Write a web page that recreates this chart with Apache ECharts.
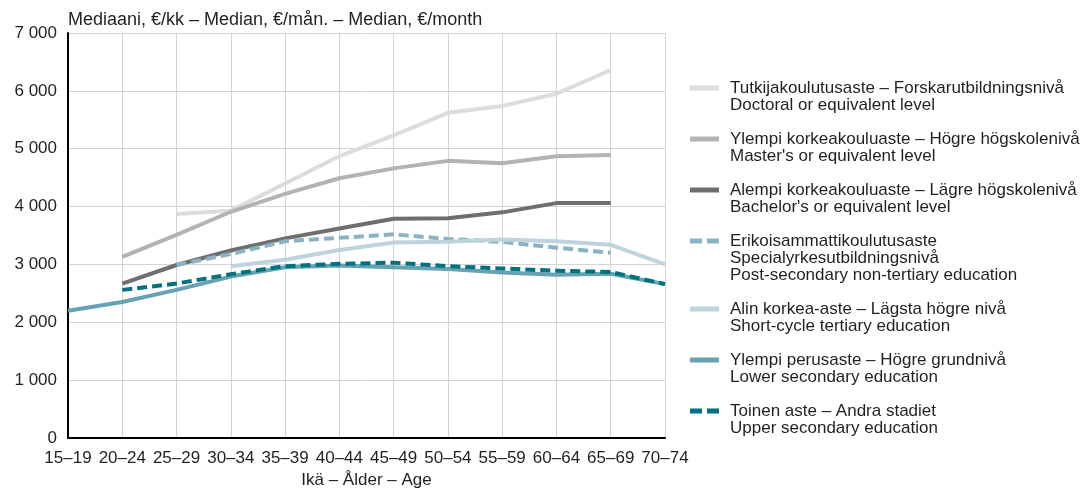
<!DOCTYPE html>
<html><head><meta charset="utf-8">
<script src="https://cdn.jsdelivr.net/npm/echarts@6/dist/echarts.min.js"></script>
<style>html,body{margin:0;padding:0;background:#fff}#c{width:1086px;height:489px}</style>
</head><body><div id="c"></div>
<script>
var categories = ['15–19','20–24','25–29','30–34','35–39','40–44','45–49','50–54','55–59','60–64','65–69','70–74'];
var doctoral   = [null,null,3870,3930,4400,4870,5230,5620,5740,5950,6360,null];
var masters    = [null,3130,3510,3910,4220,4490,4660,4790,4750,4870,4890,null];
var bachelors  = [null,2670,2990,3240,3450,3620,3790,3800,3900,4060,4060,null];
var postSec    = [null,null,2990,3180,3400,3460,3520,3440,3390,3290,3200,null];
var shortCycle = [null,null,null,2970,3080,3250,3380,3390,3430,3400,3340,3000];
var lowerSec   = [2200,2350,2560,2790,2950,2980,2950,2920,2860,2820,2840,2660];
var upperSec   = [null,2560,2670,2830,2970,3010,3030,2970,2930,2890,2870,2660];
var seriesNames = [
  ['Tutkijakoulutusaste – Forskarutbildningsnivå','Doctoral or equivalent level'],
  ['Ylempi korkeakouluaste – Högre högskolenivå',"Master's or equivalent level"],
  ['Alempi korkeakouluaste – Lägre högskolenivå',"Bachelor's or equivalent level"],
  ['Erikoisammattikoulutusaste','Specialyrkesutbildningsnivå','Post-secondary non-tertiary education'],
  ['Alin korkea-aste – Lägsta högre nivå','Short-cycle tertiary education'],
  ['Ylempi perusaste – Högre grundnivå','Lower secondary education'],
  ['Toinen aste – Andra stadiet','Upper secondary education']
];
var yTitle = 'Mediaani, €/kk – Median, €/mån. – Median, €/month';
var xTitle = 'Ikä – Ålder – Age';

var seriesData = [doctoral, masters, bachelors, postSec, shortCycle, lowerSec, upperSec];
var colors = ['#dcdcdc','#b3b3b3','#6e6e6e','#89b3c3','#bdd4dc','#66a2b1','#00717f'];
var dashed = [false,false,false,true,false,false,true];
var FONT = 'Liberation Sans';
var FS = 17;

var series = seriesData.map(function(d,i){
  return {type:'line', name: seriesNames[i].join(' '), data:d, symbol:'none', connectNulls:false,
    lineStyle:{color:colors[i], width:4, type: dashed[i] ? [10,5] : 'solid', cap:'butt', join:'round'},
    itemStyle:{color:colors[i]}, silent:true, animation:false};
});

var graphics = [];
var y = 88, L = 17, gap = 17;
seriesNames.forEach(function(lines,i){
  graphics.push({type:'line', shape:{x1:690,y1:y,x2:719,y2:y},
    style:{stroke:colors[i], lineWidth:5, lineDash: dashed[i] ? [12,5] : null}});
  lines.forEach(function(t,k){
    graphics.push({type:'text', x:730, y:y + k*L, style:{text:t, font:FS+'px "'+FONT+'"', fill:'#231f20', textVerticalAlign:'middle', textAlign:'left'}});
  });
  y += lines.length*L + gap;
});
graphics.push({type:'text', x:68, y:20, style:{text:yTitle, font:'18px "'+FONT+'"', fill:'#231f20', textVerticalAlign:'middle', textAlign:'left'}});

var chart = echarts.init(document.getElementById('c'), null, {renderer:'canvas'});
chart.setOption({
  animation:false,
  textStyle:{fontFamily:FONT},
  grid:{left:68, right:421, top:33, bottom:51, containLabel:false, outerBoundsMode:'none'},
  xAxis:{type:'category', data:categories, boundaryGap:false,
    name:xTitle, nameLocation:'middle', nameGap:34,
    nameTextStyle:{fontSize:FS, color:'#231f20', fontFamily:FONT},
    axisLine:{show:true, onZero:false, lineStyle:{color:'#000', width:2}},
    axisTick:{show:false},
    axisLabel:{fontSize:FS, color:'#231f20', margin:12, interval:0, fontFamily:FONT},
    splitLine:{show:true, interval:0, lineStyle:{color:'#d4d4d4', width:1}}},
  yAxis:{type:'value', min:0, max:7000, interval:1000,
    axisLine:{show:true, lineStyle:{color:'#000', width:2}},
    axisTick:{show:false},
    axisLabel:{fontSize:FS, color:'#231f20', margin:11, fontFamily:FONT,
      formatter:function(v){return v>=1000 ? String(v).replace(/\B(?=(\d{3})+(?!\d))/g,' ') : String(v);}},
    splitLine:{show:true, lineStyle:{color:'#d4d4d4', width:1}}},
  graphic:graphics,
  series:series
});
</script></body></html>
